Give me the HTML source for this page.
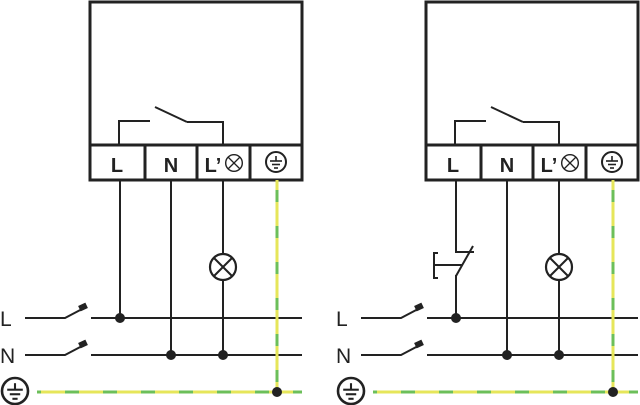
<!DOCTYPE html>
<html><head><style>html,body{margin:0;padding:0;background:#fff}svg{display:block}</style></head><body>
<svg width="640" height="405" viewBox="0 0 640 405" xmlns="http://www.w3.org/2000/svg" font-family="Liberation Sans, sans-serif">
<defs>
<g id="gnd">
<circle cx="0" cy="0" r="10" fill="none" stroke="#222" stroke-width="2"/>
<line x1="0" y1="-6" x2="0" y2="-1" stroke="#222" stroke-width="1.6"/>
<line x1="-6" y1="-1" x2="6" y2="-1" stroke="#222" stroke-width="1.6"/>
<line x1="-4" y1="2.5" x2="4" y2="2.5" stroke="#222" stroke-width="1.6"/>
<line x1="-2" y1="6" x2="2" y2="6" stroke="#222" stroke-width="1.6"/>
</g>
<g id="lamp">
<circle cx="0" cy="0" r="13" fill="#fff" stroke="#222" stroke-width="2.2"/>
<line x1="-9" y1="-9" x2="9" y2="9" stroke="#222" stroke-width="2"/>
<line x1="9" y1="-9" x2="-9" y2="9" stroke="#222" stroke-width="2"/>
</g>
<g id="sw">
<polyline points="25,0 65,0 84,-10" fill="none" stroke="#222" stroke-width="2"/>
<rect x="79" y="-14" width="8" height="6" fill="#222" transform="rotate(-25 83 -11)"/>
</g>
<g id="base">
<rect x="90" y="2" width="212" height="178" fill="#fff" stroke="#222" stroke-width="3"/>
<line x1="90" y1="145" x2="302" y2="145" stroke="#222" stroke-width="3"/>
<line x1="145" y1="145" x2="145" y2="180" stroke="#222" stroke-width="3"/>
<line x1="197" y1="145" x2="197" y2="180" stroke="#222" stroke-width="3"/>
<line x1="250" y1="145" x2="250" y2="180" stroke="#222" stroke-width="3"/>
<text x="117" y="172" font-size="20" font-weight="bold" text-anchor="middle" fill="#222">L</text>
<text x="171" y="172" font-size="20" font-weight="bold" text-anchor="middle" fill="#222">N</text>
<text x="213" y="172" font-size="20" font-weight="bold" text-anchor="middle" fill="#222">L’</text>
<g transform="translate(234,163) scale(0.64)"><use href="#lamp"/></g>
<use href="#gnd" transform="translate(276,162)"/>
<polyline points="119,145 119,121 150,121" fill="none" stroke="#222" stroke-width="2"/>
<line x1="155" y1="107" x2="187" y2="122" stroke="#222" stroke-width="2"/>
<polyline points="187,122 223,122 223,145" fill="none" stroke="#222" stroke-width="2"/>
<line x1="171" y1="180" x2="171" y2="355" stroke="#222" stroke-width="2"/>
<line x1="223" y1="180" x2="223" y2="355" stroke="#222" stroke-width="2"/>
<use href="#lamp" transform="translate(223,267)"/>
<line x1="91" y1="318" x2="302" y2="318" stroke="#222" stroke-width="2"/>
<line x1="91" y1="355" x2="302" y2="355" stroke="#222" stroke-width="2"/>
<use href="#sw" transform="translate(0,318)"/>
<use href="#sw" transform="translate(0,355)"/>
<line x1="277" y1="180" x2="277" y2="392" stroke="#e6e65a" stroke-width="3"/>
<line x1="277" y1="180" x2="277" y2="392" stroke="#6cbf5a" stroke-width="3" stroke-dasharray="12,24" stroke-dashoffset="-10"/>
<line x1="37" y1="392" x2="302" y2="392" stroke="#e6e65a" stroke-width="3"/>
<line x1="37" y1="392" x2="302" y2="392" stroke="#6cbf5a" stroke-width="3" stroke-dasharray="14,24" stroke-dashoffset="-28"/>
<circle cx="120" cy="318" r="5" fill="#222"/>
<circle cx="171" cy="355" r="5" fill="#222"/>
<circle cx="223" cy="355" r="5" fill="#222"/>
<circle cx="277" cy="392" r="5" fill="#222"/>
<text x="0" y="326" font-size="21" fill="#222">L</text>
<text x="0" y="363" font-size="21" fill="#222">N</text>
<use href="#gnd" transform="translate(15,391) scale(1.3)"/>
</g>
</defs>
<use href="#base"/>
<line x1="120" y1="180" x2="120" y2="318" stroke="#222" stroke-width="2"/>
<g transform="translate(336,0)">
<use href="#base"/>
<polyline points="120,180 120,252 138,252" fill="none" stroke="#222" stroke-width="2"/>
<line x1="137" y1="246" x2="120" y2="276" stroke="#222" stroke-width="2"/>
<line x1="120" y1="275" x2="120" y2="318" stroke="#222" stroke-width="2"/>
<polyline points="102,253 98,253 98,278 102,278" fill="none" stroke="#222" stroke-width="2"/>
<line x1="98" y1="265" x2="126" y2="265" stroke="#222" stroke-width="2"/>
</g>
</svg>
</body></html>
